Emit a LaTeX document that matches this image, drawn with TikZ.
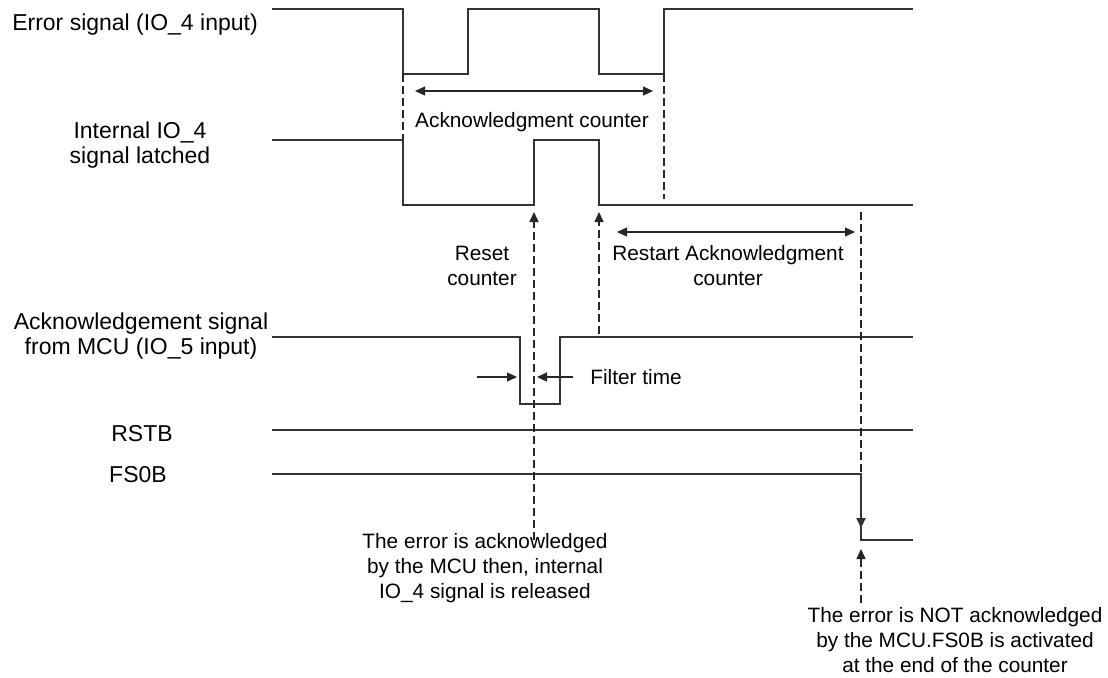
\documentclass[tikz,border=0pt]{standalone}
\usepackage{fontspec}
\setmainfont{Liberation Sans}
\usetikzlibrary{arrows.meta}

\begin{document}
\begin{tikzpicture}[x=0.5pt,y=-0.5pt]
        \tikzstyle{every node}=[font=\fontsize{11.5}{12.5}\selectfont,align=center,inner sep=0pt]
        \tikzset{note/.style = {font=\fontsize{10.4}{12.5}\selectfont}}
        \tikzset{wave/.style = {line width=1pt,black!80}}
        \tikzset{guide/.style = {line width=0.8pt,black!85,dash pattern=on 4pt off 2pt}}
        \tikzset{edge/.style = {-{Triangle[length=5pt,width=4.5pt]}}}
        \tikzset{span/.style = {{Triangle[length=5pt,width=4.5pt]}-{Triangle[length=5pt,width=4.5pt]},line width=0.6pt,black!85}}
        \useasboundingbox (0,0) rectangle (1108,677);
        % signal names
        \node (err) at (135,25) {Error signal (IO\_4 input)};
        \node (lat) at (140,145) {Internal IO\_4\\signal latched};
        \node (ack) at (141,336) {Acknowledgement signal\\from MCU (IO\_5 input)};
        \node (rst) at (142,434) {RSTB};
        \node (fs) at (138,475) {FS0B};
        % waveforms
        \draw[wave] (272,9) -- (403,9) -- (403,74) -- (468,74) -- (468,9) -- (599,9)
          -- (599,74) -- (664,74) -- (664,9) -- (913,9);
        \draw[wave] (272,140) -- (403,140) -- (403,205) -- (534,205) -- (534,140)
          -- (599,140) -- (599,205) -- (913,205);
        \draw[wave] (272,337) -- (520,337) -- (520,404) -- (560,404) -- (560,337) -- (913,337);
        \draw[wave] (272,430) -- (913,430);
        \draw[wave] (272,474) -- (861,474) -- (861,540) -- (913,540);
        % points
        \coordinate (e1) at (403,74);
        \coordinate (l1) at (403,140);
        \coordinate (e2) at (664,74);
        \coordinate (e2b) at (664,199);
        \coordinate (a1) at (415,91);
        \coordinate (a2) at (653,91);
        \coordinate (r1) at (617,232);
        \coordinate (r2) at (855,232);
        \coordinate (up1) at (534,212);
        \coordinate (up1b) at (534,540);
        \coordinate (up2) at (599,212);
        \coordinate (up2b) at (599,334);
        \coordinate (end) at (861,212);
        \coordinate (fall) at (861,474);
        \coordinate (fallb) at (861,528);
        \coordinate (up3) at (861,549);
        \coordinate (up3b) at (861,603);
        \coordinate (f1) at (477,377);
        \coordinate (f1b) at (517,377);
        \coordinate (f2) at (573,377);
        \coordinate (f2b) at (537,377);
        % guides
        \draw[guide] (e1) -- (l1);
        \draw[guide] (e2) -- (e2b);
        \draw[guide,edge] (up1b) -- (up1);
        \draw[guide,edge] (up2b) -- (up2);
        \draw[guide] (end) -- (fall);
        \draw[guide,edge] (up3b) -- (up3);
        \draw[wave,edge] (fall) -- (fallb);
        \draw[span] (a1) -- (a2);
        \draw[span] (r1) -- (r2);
        \draw[span,-{Triangle[length=5pt,width=4.5pt]}] (f1) -- (f1b);
        \draw[span,-{Triangle[length=5pt,width=4.5pt]}] (f2) -- (f2b);
        % labels
        \node[note] (cnt) at (532,122) {Acknowledgment counter};
        \node[note] (rc) at (482,266) {Reset\\counter};
        \node[note] (rac) at (728,266) {Restart Acknowledgment\\counter};
        \node[note,anchor=west] (ft) at (590,377) {Filter time};
        \node[note] (ok) at (485,568) {The error is acknowledged\\by the MCU then, internal\\IO\_4 signal is released};
        \node[note] (nok) at (955,640) {The error is NOT acknowledged\\by the MCU.FS0B is activated\\at the end of the counter};
      \end{tikzpicture}
\end{document}
